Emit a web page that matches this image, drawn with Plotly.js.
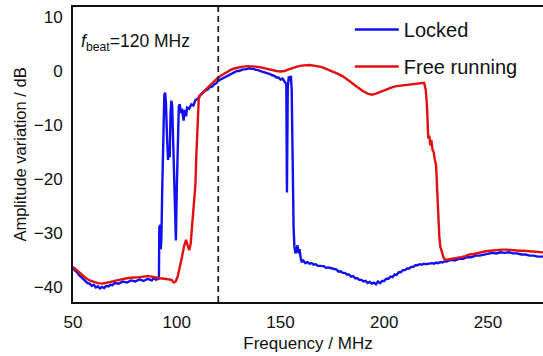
<!DOCTYPE html>
<html>
<head>
<meta charset="utf-8">
<script src="https://cdn.plot.ly/plotly-3.0.1.min.js"></script>
<style>html,body{margin:0;padding:0;background:#fff;}#chart{width:543px;height:356px;}</style>
</head>
<body>
<div id="chart"></div>
<script>
// Locked (blue) trace
const lockedFreq = [50,51,52,53,54,55,56,57,58,59,60,61,62,63,64,65,66,67,68,69,70,72,74,76,78,80,82,84,86,88,89,90,91,91.4,91.6,92,92.3,92.6,93,93.5,94,94.4,94.8,95.3,95.8,96.2,96.6,97,97.4,97.8,98.3,98.8,99.3,99.6,100,100.5,101,101.5,102,102.5,103,103.3,103.8,104.5,105,106,107,108,109,110,111,112,113,114,115,116,117,118,119,120,121,122,123,124,125,126,127,128,129,130,131,132,133,134,135,136,137,138,139,140,141,142,143,144,145,146,147,148,149,150,151,152,152.8,153.1,153.5,154,154.5,155,155.4,155.7,156.0,156.3,156.7,157.2,157.7,158.2,158.7,159.2,159.7,160.2,161,162,163,164,165,166,167,168,169,170,171,172,173,174,175,176,177,178,179,180,181,182,183,184,185,186,187,188,189,190,191,192,193,194,195,196,197,198,199,200,201,202,203,204,205,206,207,208,209,210,211,212,213,214,215,216,217,218,219,220,221,222,223,224,225,226,227,228,229,230,232,234,236,238,240,242,244,246,248,250,252,254,256,258,260,262,264,266,268,270,272,274,276.5];
const lockedDb = [-36.4,-37.0,-37.3,-37.9,-38.2,-38.6,-38.9,-39.3,-39.4,-39.8,-39.6,-40.1,-39.9,-40.3,-40.0,-40.2,-39.8,-39.9,-39.6,-39.7,-39.3,-39.4,-39.0,-39.2,-38.8,-39.0,-38.6,-38.9,-38.5,-38.8,-38.3,-38.7,-38.5,-38.6,-29,-28.5,-33,-31,-22,-12,-4.5,-4.0,-6,-12,-16.5,-14,-16,-8,-5.5,-6.5,-14,-22,-30,-31.4,-22,-15,-6.5,-6.2,-7.8,-7,-8.6,-9.2,-7.2,-8.4,-6.8,-7.0,-6.2,-6.4,-5.4,-5.2,-4.6,-4.2,-3.9,-3.6,-3.4,-3.0,-2.9,-2.5,-2.3,-1.8,-1.6,-1.4,-1.2,-0.9,-0.7,-0.5,-0.4,-0.2,0.0,0.0,0.2,0.3,0.3,0.4,0.5,0.4,0.4,0.2,0.2,0.0,-0.1,-0.2,-0.3,-0.5,-0.6,-0.8,-0.9,-1.2,-1.2,-1.6,-1.4,-2.0,-2.4,-22.5,-3,-1.0,-1.8,-0.9,-3.5,-12,-22,-29,-32.5,-33.8,-33.2,-32.3,-33.8,-33.0,-34.6,-35.4,-35.1,-35.6,-35.4,-35.7,-35.6,-35.9,-35.8,-36.1,-36.1,-36.2,-36.2,-36.5,-36.4,-36.5,-36.6,-36.8,-36.8,-37.2,-37.1,-37.4,-37.4,-37.7,-37.7,-38.1,-38.0,-38.4,-38.4,-38.7,-38.7,-39.0,-38.9,-39.3,-39.1,-39.4,-39.2,-39.5,-39.0,-39.3,-38.9,-38.9,-38.5,-38.5,-38.1,-38.2,-37.7,-37.8,-37.3,-37.3,-36.9,-36.9,-36.6,-36.6,-36.3,-36.3,-36.0,-36.0,-35.8,-35.9,-35.7,-35.8,-35.7,-35.7,-35.6,-35.7,-35.5,-35.6,-35.4,-35.5,-35.3,-35.3,-35.0,-35.1,-34.8,-34.8,-34.5,-34.5,-34.2,-34.2,-34.0,-33.9,-33.7,-33.8,-33.6,-33.7,-33.6,-33.8,-33.8,-34.0,-34.0,-34.2,-34.2,-34.4,-34.4];

// Free running (red) trace
const freeFreq = [50,52,54,56,58,60,62,64,66,68,70,72,74,76,78,80,82,84,86,88,90,92,94,96,97.5,98.5,99.5,100.5,101.5,102.5,103.5,104.5,105.3,106,106.7,107.3,107.8,108.2,108.6,109,109.4,109.8,110.2,110.6,111.2,112,113,114,116,118,120,122,124,126,128,130,132,134,136,138,140,142,144,146,148,150,152,154,156,158,160,162,164,166,168,170,172,174,176,178,180,182,184,186,188,190,192,194,196,198,200,202,204,206,208,210,212,214,216,218,219.2,220,220.6,221.2,221.7,222.2,222.7,223.3,223.8,224.4,225,225.5,226,226.5,227,227.7,228.5,229.3,231,233,235,237,239,241,243,245,247,249,251,253,255,257,259,261,263,265,267,269,271,273,276.5];
const freeDb = [-36.3,-37.0,-37.7,-38.3,-38.8,-39.1,-39.3,-39.4,-39.3,-39.1,-38.9,-38.7,-38.6,-38.4,-38.3,-38.3,-38.2,-38.1,-38.0,-38.1,-38.3,-38.4,-38.5,-38.6,-38.7,-39.2,-39.0,-38.0,-36.5,-34.5,-32.5,-31.3,-32.4,-33.2,-32.0,-29,-26,-25,-23.8,-21,-16,-11,-7,-5.2,-4.5,-4.2,-3.8,-3.4,-2.8,-2.0,-1.2,-0.7,-0.2,0.2,0.5,0.7,0.8,0.9,0.9,0.8,0.7,0.5,0.3,0.1,0.0,-0.1,0.0,0.3,0.6,0.8,1.0,1.1,1.1,1.0,0.9,0.7,0.4,0.1,-0.2,-0.6,-1.0,-1.5,-2.1,-2.7,-3.3,-3.8,-4.2,-4.4,-4.2,-3.9,-3.5,-3.2,-3.0,-2.8,-2.7,-2.6,-2.5,-2.4,-2.4,-2.3,-2.2,-3.5,-6.5,-12.5,-12.0,-13.8,-12.8,-14.7,-15,-16.5,-17.5,-22,-27,-30.5,-32.5,-33.5,-34.5,-35.0,-34.9,-34.8,-34.6,-34.5,-34.3,-34.0,-33.9,-33.7,-33.5,-33.4,-33.3,-33.2,-33.2,-33.1,-33.1,-33.2,-33.2,-33.3,-33.3,-33.4,-33.4,-33.5,-33.6];

const xTicks = [50,100,150,200,250];
const yTicks = [-40,-30,-20,-10,0,10];
const beatFreq = 120;
const seriesNames = ['Locked','Free running'];

const FONT = 'Liberation Sans, Arial, sans-serif';

const traces = [
  {x: lockedFreq, y: lockedDb, name: seriesNames[0], type: 'scatter', mode: 'lines',
   line: {color: '#1010f0', width: 2.4}, legendgroup: 'a'},
  {x: freeFreq, y: freeDb, name: seriesNames[1], type: 'scatter', mode: 'lines',
   line: {color: '#e01010', width: 2.4}, legendgroup: 'b'}
];

const layout = {
  width: 543, height: 356,
  margin: {l: 73, r: 0, t: 7, b: 54},
  paper_bgcolor: '#fff', plot_bgcolor: '#fff',
  font: {family: FONT, color: '#111', size: 17},
  showlegend: true,
  legend: {x: 0.589, y: 0.99, xanchor: 'left', yanchor: 'top', bgcolor: 'rgba(0,0,0,0)',
           font: {size: 20, family: FONT, color: '#111'}, itemwidth: 44, tracegroupgap: 8,
           traceorder: 'grouped'},
  xaxis: {range: [50, 276.5], tickvals: xTicks, showgrid: false, zeroline: false,
          showline: true, mirror: true, linecolor: '#111', linewidth: 2, ticks: '',
          ticklabelstandoff: 4, tickfont: {size: 17},
          title: {text: 'Frequency / MHz', font: {size: 17}, standoff: 6}},
  yaxis: {range: [-42.8, 11.85], tickvals: yTicks, showgrid: false, zeroline: false,
          showline: true, linecolor: '#111', linewidth: 2, ticks: '',
          ticklabelstandoff: 5, tickfont: {size: 17},
          title: {text: 'Amplitude variation / dB', font: {size: 16.5}, standoff: 3}},
  shapes: [{type: 'line', xref: 'x', yref: 'paper', x0: beatFreq, x1: beatFreq, y0: 0, y1: 1,
            line: {color: '#222', width: 1.8, dash: '6px,4px'}}],
  annotations: [{x: 53.0, y: 5.3, xref: 'x', yref: 'y', xanchor: 'left', yanchor: 'middle',
                 showarrow: false, text: '<i>f</i><sub>beat</sub>=120 MHz',
                 font: {size: 17.5, family: FONT, color: '#111'}}]
};

Plotly.newPlot('chart', traces, layout, {displayModeBar: false, staticPlot: true});
</script>
</body>
</html>
